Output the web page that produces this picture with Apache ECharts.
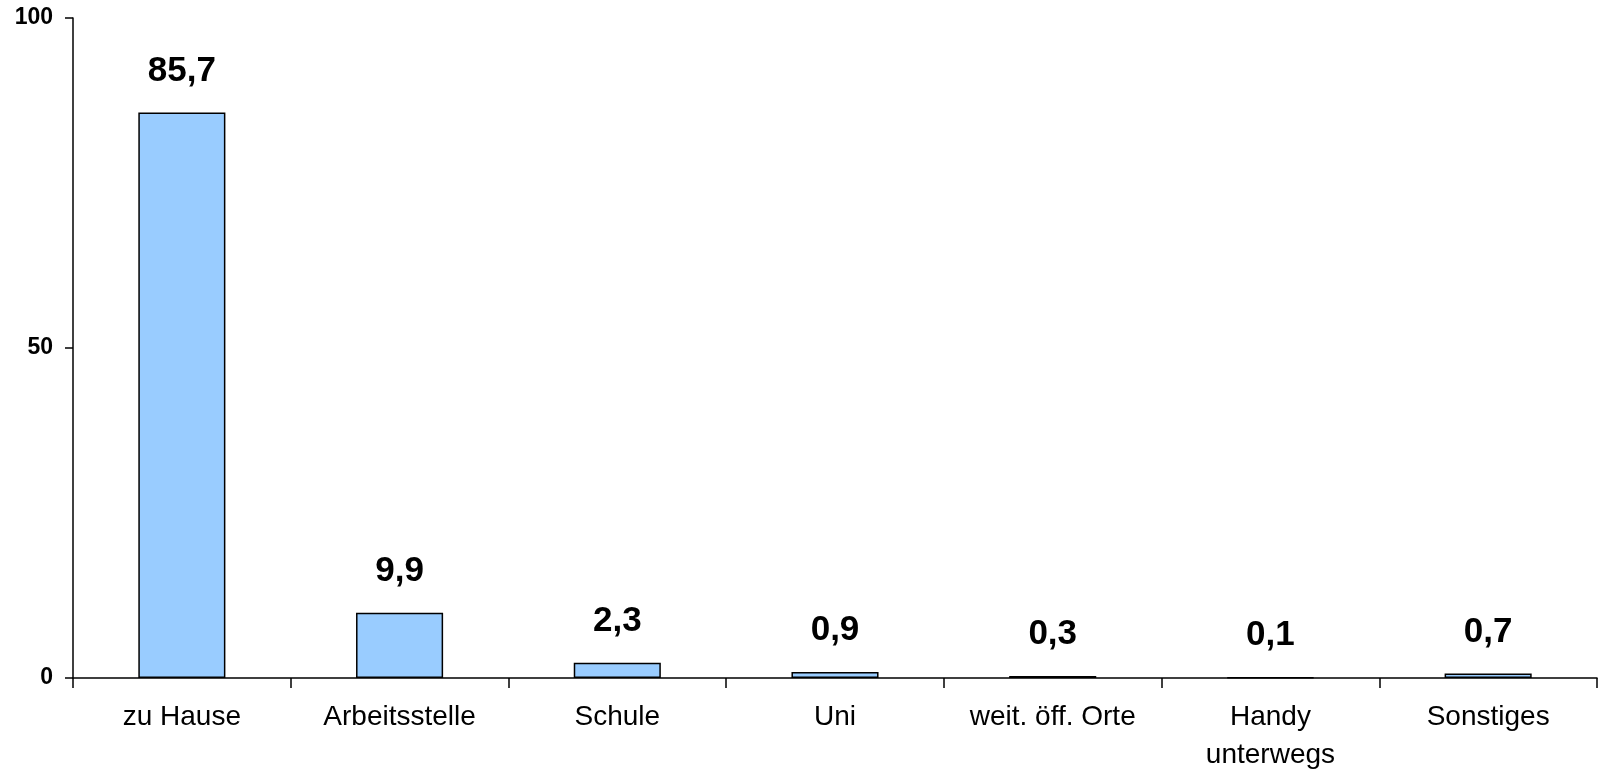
<!DOCTYPE html>
<html>
<head>
<meta charset="utf-8">
<script src="https://cdn.jsdelivr.net/npm/echarts@6/dist/echarts.min.js"></script>
<style>
html,body{margin:0;padding:0;background:#fff;}
#chart{width:1605px;height:774px;}
</style>
</head>
<body>
<div id="chart"></div>
<script>
const categories = ['zu Hause', 'Arbeitsstelle', 'Schule', 'Uni', 'weit. öff. Orte', 'Handy\nunterwegs', 'Sonstiges'];
const values = [85.7, 9.9, 2.3, 0.9, 0.3, 0.1, 0.7];
const yTicks = [0, 50, 100];

const chart = echarts.init(document.getElementById('chart'));
chart.setOption({
  animation: false,
  backgroundColor: '#ffffff',
  grid: { left: 73, right: 8, top: 18, bottom: 94, containLabel: false },
  xAxis: {
    type: 'category',
    data: categories,
    boundaryGap: true,
    axisLine: { lineStyle: { color: '#000', width: 1.5 } },
    axisTick: { show: true, length: 10, lineStyle: { color: '#000', width: 1.5 } },
    axisLabel: {
      interval: 0,
      margin: 20,
      color: '#000',
      fontFamily: 'Liberation Sans, Arial, sans-serif',
      fontSize: 28,
      lineHeight: 38
    }
  },
  yAxis: {
    type: 'value',
    min: yTicks[0],
    max: yTicks[yTicks.length - 1],
    interval: yTicks[1] - yTicks[0],
    splitLine: { show: false },
    axisLine: { show: true, lineStyle: { color: '#000', width: 1.5 } },
    axisTick: { show: true, length: 8, lineStyle: { color: '#000', width: 1.5 } },
    axisLabel: {
      margin: 20,
      color: '#000',
      fontWeight: 'bold',
      fontFamily: 'Liberation Sans, Arial, sans-serif',
      fontSize: 23
    }
  },
  series: [{
    type: 'bar',
    data: values,
    barWidth: '40%',
    itemStyle: { color: '#99CCFF', borderColor: '#000', borderWidth: 1.5 },
    label: {
      show: true,
      position: 'top',
      distance: 24,
      color: '#000',
      fontWeight: 'bold',
      fontFamily: 'Liberation Sans, Arial, sans-serif',
      fontSize: 35,
      formatter: p => String(p.value).replace('.', ',')
    }
  }]
});
</script>
</body>
</html>
